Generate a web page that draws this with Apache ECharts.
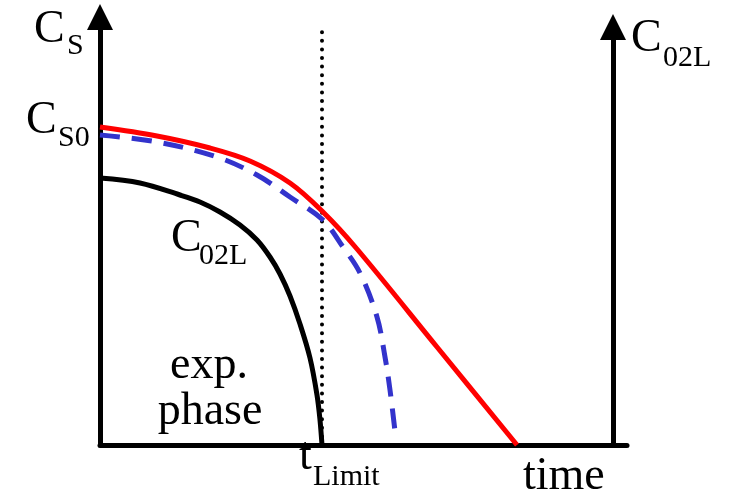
<!DOCTYPE html>
<html>
<head>
<meta charset="utf-8">
<script src="https://cdn.jsdelivr.net/npm/echarts@6/dist/echarts.min.js"></script>
<style>
  html, body { margin: 0; padding: 0; background: #fff; }
  #container { width: 729px; height: 496px; }
</style>
</head>
<body>
<div id="container"></div>
<script>
var dom = document.getElementById("container");
var myChart = echarts.init(dom);

// substrate concentration (solid red), model (blue dashed), dissolved O2 (black)
var csMeasured = [[0, 318], [57, 309], [110, 297], [150, 284], [190, 262], [223, 233], [257, 196], [337, 98], [417, 0]];
var csModel = [[0, 310], [57, 303], [117, 288], [157, 270], [190, 248], [223, 225], [243, 198], [260, 172], [277, 128], [285, 88], [290, 55], [296, 5]];
var o2 = [[0, 267], [40, 262], [80, 250], [100, 243], [120, 233], [140, 220], [157, 205], [170, 188], [180, 171], [190, 149], [200, 121], [210, 87], [217, 50], [220, 25], [222, 0]];
var tLimit = [[222, 0], [222, 415]];

var serif = '"Liberation Serif", "DejaVu Serif", serif';
var big = 46, sub = 30;

// text placed by baseline
function txt(s, x, base, size, align) {
    return {
        type: 'text',
        style: {
            text: s,
            x: x,
            y: base - size * 0.32,
            font: size + 'px ' + serif,
            fill: '#000',
            align: align || 'left',
            verticalAlign: 'middle'
        }
    };
}

var arrowAxis = {
    show: true,
    symbol: ['none', 'triangle'],
    symbolSize: [26, 26],
    lineStyle: {color: '#000', width: 5}
};

option = {
    animation: false,
    grid: [
        {left: 100, right: 102, top: 17, bottom: 51},
        {left: 613, right: 115, top: 27, bottom: 51}
    ],
    xAxis: [{
        type: 'value', min: 0, max: 527, gridIndex: 0,
        axisLine: {lineStyle: {color: '#000', width: 5}},
        axisTick: {show: false}, axisLabel: {show: false}, splitLine: {show: false}
    }, {
        type: 'value', min: 0, max: 1, gridIndex: 1, show: false
    }],
    yAxis: [{
        type: 'value', min: 0, max: 428, gridIndex: 0,
        axisLine: arrowAxis,
        axisTick: {show: false}, axisLabel: {show: false}, splitLine: {show: false}
    }, {
        type: 'value', min: 0, max: 1, gridIndex: 1,
        axisLine: arrowAxis,
        axisTick: {show: false}, axisLabel: {show: false}, splitLine: {show: false}
    }],
    series: [{
        type: 'line', data: tLimit, symbol: 'none',
        lineStyle: {color: '#000', width: 4, type: [0, 8.6], cap: 'round'}
    }, {
        type: 'line', data: o2, symbol: 'none', smooth: 0.35,
        lineStyle: {color: '#000', width: 5}
    }, {
        type: 'line', data: csModel, symbol: 'none', smooth: 0.35,
        lineStyle: {color: '#3333cc', width: 5, type: [20, 12]}
    }, {
        type: 'line', data: csMeasured, symbol: 'none', smooth: 0.35,
        lineStyle: {color: '#ff0000', width: 5}
    }],
    graphic: [
        txt('C', 34, 45, big), txt('S', 67, 56, sub),
        txt('C', 26, 136, big), txt('S0', 58, 148, sub),
        txt('C', 631, 54, big), txt('02L', 663, 68, sub),
        txt('C', 171, 254, big), txt('02L', 199, 266, sub),
        txt('exp.', 209, 381, big, 'center'),
        txt('phase', 210, 427, big, 'center'),
        txt('t', 299, 472, big), txt('Limit', 313, 487, sub),
        txt('time', 523, 492, big)
    ]
};
myChart.setOption(option, true);
</script>
</body>
</html>
